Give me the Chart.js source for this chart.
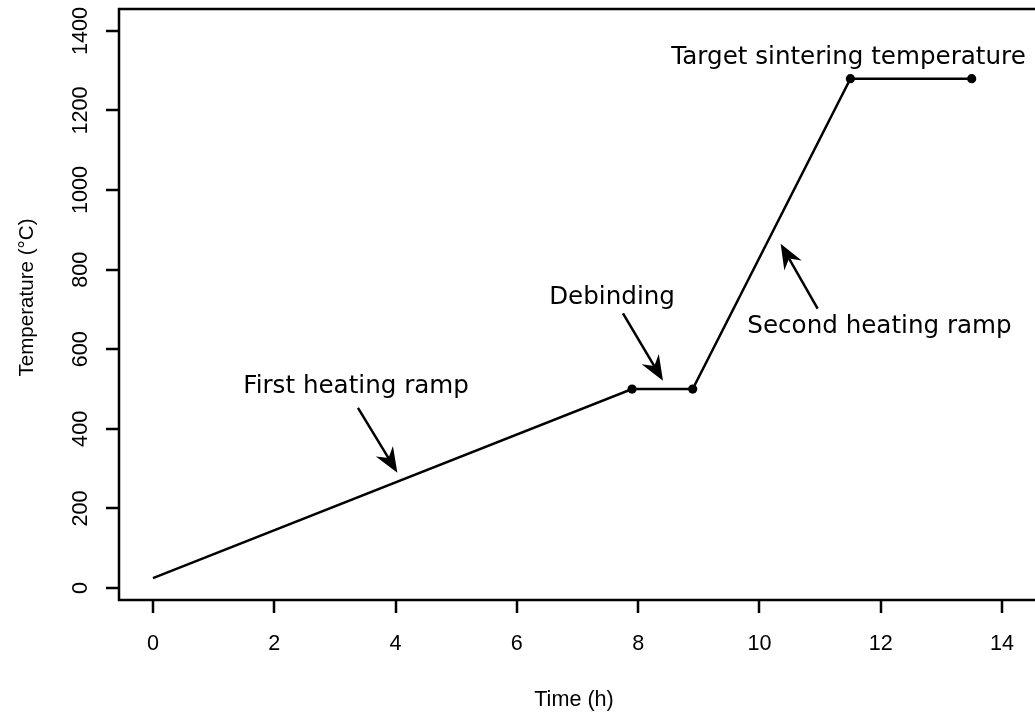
<!DOCTYPE html>
<html>
<head>
<meta charset="utf-8">
<script src="https://cdn.jsdelivr.net/npm/chart.js@4/dist/chart.umd.min.js"></script>
<style>
  html, body { margin: 0; padding: 0; background: #fff; overflow: hidden; }
  #wrap { width: 1045px; height: 715px; }
</style>
</head>
<body>
<div id="wrap"><canvas id="profile" width="1045" height="715"></canvas></div>
<script>
// Sintering furnace profile
const timeH = [0, 7.9, 8.9, 11.5, 13.5];
const tempC = [25, 500, 500, 1280, 1280];
const markSize = [0, 4.6, 4.6, 4.6, 4.6];

const xTicks = [0, 2, 4, 6, 8, 10, 12, 14];
const yTicks = [0, 200, 400, 600, 800, 1000, 1200, 1400];

const xTitle = 'Time (h)';
const yTitle = 'Temperature (°C)';

// labels with arrows, in axis units
const notes = [
    { text: 'First heating ramp', x: 3.35, y: 489, from: [3.38, 453], to: [4.03, 290] },
    { text: 'Debinding', x: 7.57, y: 715, from: [7.75, 690], to: [8.41, 521] },
    { text: 'Second heating ramp', x: 11.98, y: 642, from: [10.96, 702], to: [10.35, 865] },
    { text: 'Target sintering temperature', x: 11.47, y: 1317 }
];

const tickFont = '21.6px "Liberation Sans", Arial, sans-serif';
const titleFont = '20.6px "Liberation Sans", Arial, sans-serif';
const noteFont = '24.6px "DejaVu Sans", sans-serif';
const lw = 2.5;

const drawArrow = (ctx, x0, y0, x1, y1) => {
    const ang = Math.atan2(y1 - y0, x1 - x0);
    const len = 25, half = 10, back = 17;
    const ux = Math.cos(ang), uy = Math.sin(ang);
    const px = -uy, py = ux;
    ctx.beginPath();
    ctx.moveTo(x0, y0);
    ctx.lineTo(x1 - ux * back, y1 - uy * back);
    ctx.stroke();
    ctx.beginPath();
    ctx.moveTo(x1, y1);
    ctx.lineTo(x1 - ux * len + px * half, y1 - uy * len + py * half);
    ctx.lineTo(x1 - ux * back, y1 - uy * back);
    ctx.lineTo(x1 - ux * len - px * half, y1 - uy * len - py * half);
    ctx.closePath();
    ctx.fill();
};

// box, ticks, labels and notes, R style
const frame = {
    id: 'frame',
    afterDraw(chart) {
        const ctx = chart.ctx;
        const area = chart.chartArea;
        const xs = chart.scales.x, ys = chart.scales.y;
        const tl = 13;
        ctx.save();
        ctx.strokeStyle = '#000';
        ctx.fillStyle = '#000';
        ctx.lineWidth = lw;
        ctx.lineCap = 'butt';
        ctx.strokeRect(area.left, area.top, area.right - area.left, area.bottom - area.top);

        ctx.beginPath();
        xTicks.forEach(v => {
            const px = Math.round(xs.getPixelForValue(v));
            ctx.moveTo(px, area.bottom);
            ctx.lineTo(px, area.bottom + tl);
        });
        yTicks.forEach(v => {
            const py = Math.round(ys.getPixelForValue(v));
            ctx.moveTo(area.left, py);
            ctx.lineTo(area.left - tl, py);
        });
        ctx.stroke();

        ctx.font = tickFont;
        ctx.textAlign = 'center';
        ctx.textBaseline = 'alphabetic';
        xTicks.forEach(v => ctx.fillText(String(v), xs.getPixelForValue(v), 650));
        ctx.fillText(xTitle, 574, 706);

        yTicks.forEach(v => {
            ctx.save();
            ctx.translate(87, ys.getPixelForValue(v));
            ctx.rotate(-Math.PI / 2);
            ctx.fillText(String(v), 0, 0);
            ctx.restore();
        });
        ctx.font = titleFont;
        ctx.save();
        ctx.translate(33, (area.top + area.bottom) / 2 - 7);
        ctx.rotate(-Math.PI / 2);
        ctx.fillText(yTitle, 0, 0);
        ctx.restore();

        ctx.font = noteFont;
        notes.forEach(n => {
            ctx.fillText(n.text, xs.getPixelForValue(n.x), ys.getPixelForValue(n.y));
            if (n.from) {
                drawArrow(ctx,
                    xs.getPixelForValue(n.from[0]), ys.getPixelForValue(n.from[1]),
                    xs.getPixelForValue(n.to[0]), ys.getPixelForValue(n.to[1]));
            }
        });
        ctx.restore();
    }
};

const hiddenAxis = (min, max, size, horizontal) => ({
    type: 'linear',
    min: min,
    max: max,
    grid: { display: false },
    border: { display: false },
    ticks: { display: false },
    afterFit: (scale) => {
        if (horizontal) scale.height = size; else scale.width = size;
    }
});

new Chart(document.getElementById('profile').getContext('2d'), {
    type: 'line',
    data: {
        datasets: [{
            data: timeH.map((t, i) => ({ x: t, y: tempC[i] })),
            borderColor: '#000',
            borderWidth: lw,
            tension: 0,
            fill: false,
            pointRadius: markSize,
            pointBackgroundColor: '#000',
            pointBorderWidth: 0,
            clip: false
        }]
    },
    options: {
        responsive: false,
        animation: false,
        devicePixelRatio: 1,
        layout: { padding: { left: 0, top: 9, right: 6, bottom: 0 } },
        plugins: {
            legend: { display: false },
            tooltip: { enabled: false }
        },
        scales: {
            x: hiddenAxis(-0.56, 14.61, 115, true),
            y: hiddenAxis(-30, 1455, 119, false)
        }
    },
    plugins: [frame]
});
</script>
</body>
</html>
